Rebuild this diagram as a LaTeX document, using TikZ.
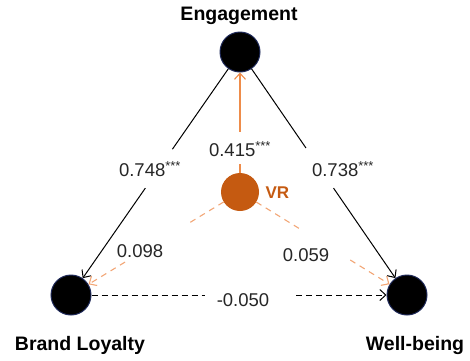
\documentclass[tikz,border=0pt]{standalone}
\usepackage{fontspec}
\setmainfont{Liberation Sans}
\usetikzlibrary{arrows.meta,calc}
\definecolor{vrorange}{HTML}{C55A11}
\definecolor{vrline}{HTML}{EE8C4A}
\definecolor{vrdashcol}{HTML}{F2A676}
\definecolor{rimblue}{HTML}{1F2A5A}
\begin{document}
\begin{tikzpicture}[x=1pt,y=-1pt,
  construct/.style={circle,fill=black,draw=rimblue,line width=1pt,minimum size=40pt,inner sep=0pt},
  vrnode/.style={circle,fill=vrorange,minimum size=38pt,inner sep=0pt},
  title/.style={font=\bfseries\fontsize{19.5}{22}\selectfont},
  coef/.style={font=\fontsize{18.5}{21}\selectfont,text=black!85,inner sep=1pt},
  barb/.style={-{Straight Barb[length=6pt,width=11pt]}},
  pathline/.style={line width=1pt},
  vrpath/.style={line width=1.1pt,draw=vrline},
  vrdash/.style={line width=1.1pt,draw=vrdashcol,dash pattern=on 6pt off 5pt},
  bldash/.style={line width=1pt,dash pattern=on 6pt off 4pt}
]
\useasboundingbox (0,0) rectangle (470,360);
% constructs
\node[construct] (eng) at (240,52) {};
\node[construct] (bl) at (71,295) {};
\node[construct] (wb) at (407,295) {};
\node[vrnode] (vr) at (240,192) {};
% break points where the coefficient labels interrupt the paths
\coordinate (eb1) at ($(eng)!0.40!(bl)$);
\coordinate (eb2) at ($(eng)!0.56!(bl)$);
\coordinate (ew1) at ($(eng)!0.395!(wb)$);
\coordinate (ew2) at ($(eng)!0.56!(wb)$);
\coordinate (ve1) at ($(vr)!0.20!(eng)$);
\coordinate (ve2) at ($(vr)!0.43!(eng)$);
\coordinate (vb1) at ($(vr)!0.30!(bl)$);
\coordinate (vb2) at ($(vr)!0.68!(bl)$);
\coordinate (vw1) at ($(vr)!0.36!(wb)$);
\coordinate (vw2) at ($(vr)!0.66!(wb)$);
\coordinate (bw1) at ($(bl)!0.40!(wb)$);
\coordinate (bw2) at ($(bl)!0.67!(wb)$);
% direct paths from engagement
\draw[pathline] (eng) -- (eb1);
\draw[pathline,barb] (eb2) -- (bl);
\draw[pathline] (eng) -- (ew1);
\draw[pathline,barb] (ew2) -- (wb);
% VR effects
\draw[vrpath] (vr) -- (ve1);
\draw[vrpath,barb] (ve2) -- (eng);
\draw[vrdash] (vr) -- (vb1);
\draw[vrdash,barb] (vb2) -- (bl);
\draw[vrdash] (vr) -- (vw1);
\draw[vrdash,barb] (vw2) -- (wb);
% brand loyalty to well-being
\draw[bldash] (bl) -- (bw1);
\draw[bldash,barb] (bw2) -- (wb);
% titles
\node[title] (tEng) at (239,16) {Engagement};
\node[title] (tBl) at (80,345) {Brand Loyalty};
\node[title] (tWb) at (415,345) {Well-being};
\node[font=\bfseries\fontsize{17}{19}\selectfont,text=vrorange,anchor=west] (tVr) at (262,193) {VR};
% coefficient labels
\node[coef] (c415) at (240,149) {0.415\textsuperscript{***}};
\node[coef] (c748) at (150,169) {0.748\textsuperscript{***}};
\node[coef] (c738) at (343,169) {0.738\textsuperscript{***}};
\node[coef] (c098) at (140,251) {0.098};
\node[coef] (c059) at (306,255) {0.059};
\node[coef] (c050) at (243,300) {-0.050};
\end{tikzpicture}
\end{document}
